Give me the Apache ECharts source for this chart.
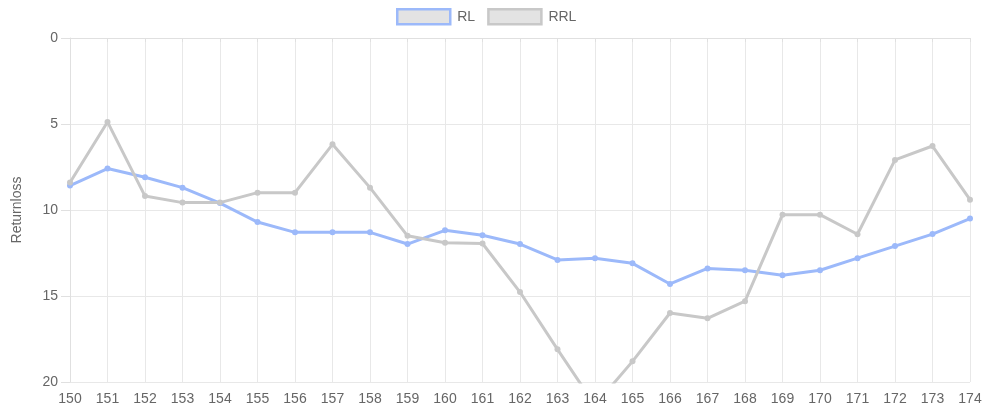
<!DOCTYPE html>
<html>
<head>
<meta charset="utf-8">
<script src="https://cdn.jsdelivr.net/npm/echarts@6/dist/echarts.min.js"></script>
<style>
html,body{margin:0;padding:0;background:#fff;}
#chart{width:985px;height:409px;}
</style>
</head>
<body>
<div id="chart"></div>
<script>
const categories = ['150','151','152','153','154','155','156','157','158','159','160','161','162','163','164','165','166','167','168','169','170','171','172','173','174'];
const rlValues  = [8.58, 7.59, 8.1, 8.7, 9.6, 10.7, 11.3, 11.3, 11.3, 11.98, 11.18, 11.47, 11.98, 12.9, 12.8, 13.1, 14.3, 13.4, 13.5, 13.8, 13.5, 12.8, 12.1, 11.4, 10.5];
const rrlValues = [8.4, 4.88, 9.19, 9.57, 9.57, 8.99, 8.99, 6.18, 8.7, 11.5, 11.9, 11.95, 14.77, 18.1, 21.35, 18.8, 15.99, 16.3, 15.3, 10.27, 10.27, 11.41, 7.09, 6.28, 9.4];
const yTicks = [0, 5, 10, 15, 20];
const seriesNames = ['RL', 'RRL'];

const chart = echarts.init(document.getElementById('chart'), null, {renderer: 'canvas'});
const font = 'Liberation Sans, Arial, sans-serif';
const blue = '#9cb9fa';
const gray = '#c8c8c8';
chart.setOption({
  animation: false,
  textStyle: {fontFamily: font},
  legend: {
    top: 4,
    left: 396,
    padding: [4, 0],
    itemWidth: 53,
    itemHeight: 15,
    itemGap: 12,
    textStyle: {color: '#666', fontSize: 14, fontFamily: font, padding: [0, 0, 0, 2]},
    data: [
      {name: seriesNames[0], icon: 'rect', itemStyle: {color: '#e3e3e3', borderColor: blue, borderWidth: 2.5}},
      {name: seriesNames[1], icon: 'rect', itemStyle: {color: '#e3e3e3', borderColor: gray, borderWidth: 2.5}}
    ]
  },
  grid: {left: 70, right: 15, top: 38, bottom: 27, containLabel: false},
  xAxis: {
    type: 'category',
    data: categories,
    boundaryGap: false,
    axisLine: {show: true, lineStyle: {color: '#e0e0e0'}},
    axisTick: {show: true, length: 4, lineStyle: {color: '#e0e0e0'}},
    axisLabel: {color: '#666', fontSize: 14, margin: 10, fontFamily: font},
    splitLine: {show: true, lineStyle: {color: '#e8e8e8'}}
  },
  yAxis: {
    type: 'value',
    inverse: true,
    min: yTicks[0],
    max: yTicks[yTicks.length - 1],
    interval: 5,
    name: 'Returnloss',
    nameLocation: 'middle',
    nameGap: 46,
    nameRotate: 90,
    nameTextStyle: {color: '#666', fontSize: 14, fontFamily: font},
    axisLine: {show: true, lineStyle: {color: '#e0e0e0'}},
    axisTick: {show: true, length: 9, lineStyle: {color: '#e0e0e0'}},
    axisLabel: {color: '#666', fontSize: 14, margin: 12, fontFamily: font},
    splitLine: {show: true, lineStyle: {color: '#e8e8e8'}}
  },
  series: [
    {
      name: seriesNames[0], type: 'line', data: rlValues,
      symbol: 'circle', symbolSize: 6, clip: true,
      lineStyle: {color: blue, width: 3},
      itemStyle: {color: blue}
    },
    {
      name: seriesNames[1], type: 'line', data: rrlValues,
      symbol: 'circle', symbolSize: 6, clip: true,
      lineStyle: {color: gray, width: 3},
      itemStyle: {color: gray}
    }
  ]
});
</script>
</body>
</html>
